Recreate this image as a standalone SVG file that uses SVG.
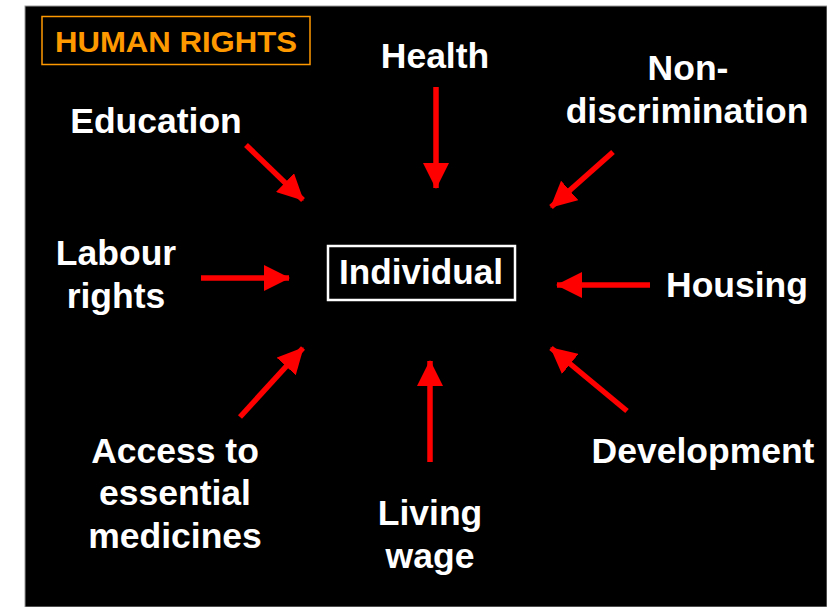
<svg xmlns="http://www.w3.org/2000/svg" width="827" height="607" viewBox="0 0 827 607">
  <defs>
    <marker id="head" markerUnits="userSpaceOnUse" markerWidth="26" markerHeight="26" viewBox="0 0 26 26" refX="25" refY="13" orient="auto">
      <path d="M0,0 L26,13 L0,26 Z" fill="#ff0000"/>
    </marker>
    <style>
      .lbl { font-family: "Liberation Sans", Arial, sans-serif; font-weight: bold; font-size: 35.5px; fill: #ffffff; text-anchor: middle; }
      .arrow { stroke: #ff0000; stroke-width: 5.5; fill: none; marker-end: url(#head); }
    </style>
  </defs>

  <!-- page background with black slide -->
  <rect x="0" y="0" width="827" height="607" fill="#ffffff"/>
  <rect x="25" y="6" width="802" height="601" fill="#000000" stroke="#9a9a9a" stroke-width="1"/>

  <!-- title tag -->
  <g id="title">
    <rect x="42" y="16.5" width="268" height="48" fill="none" stroke="#ff9900" stroke-width="1.5"/>
    <text x="176" y="52" font-family="Liberation Sans, Arial, sans-serif" font-weight="bold" font-size="30" fill="#ff9900" text-anchor="middle" textLength="242" lengthAdjust="spacingAndGlyphs">HUMAN RIGHTS</text>
  </g>

  <!-- centre node -->
  <g id="individual">
    <rect x="328" y="246" width="187" height="54" fill="none" stroke="#ffffff" stroke-width="2.5"/>
    <text class="lbl" x="421" y="284" textLength="164" lengthAdjust="spacingAndGlyphs">Individual</text>
  </g>

  <!-- surrounding rights -->
  <g id="health"><text class="lbl" x="435" y="68">Health</text></g>
  <g id="education"><text class="lbl" x="156" y="133">Education</text></g>
  <g id="non-discrimination">
    <text class="lbl" x="688" y="80">Non-</text>
    <text class="lbl" x="687" y="123">discrimination</text>
  </g>
  <g id="labour-rights">
    <text class="lbl" x="116" y="265">Labour</text>
    <text class="lbl" x="116" y="308">rights</text>
  </g>
  <g id="housing"><text class="lbl" x="737" y="297">Housing</text></g>
  <g id="access-medicines">
    <text class="lbl" x="175" y="463">Access to</text>
    <text class="lbl" x="175" y="505">essential</text>
    <text class="lbl" x="175" y="548">medicines</text>
  </g>
  <g id="living-wage">
    <text class="lbl" x="430" y="525">Living</text>
    <text class="lbl" x="430" y="568">wage</text>
  </g>
  <g id="development"><text class="lbl" x="703" y="463">Development</text></g>

  <!-- connectors pointing at the individual -->
  <g id="connectors">
    <line class="arrow" x1="246" y1="145" x2="303" y2="200"/>
    <line class="arrow" x1="436" y1="87" x2="436" y2="188"/>
    <line class="arrow" x1="613" y1="152" x2="551" y2="207"/>
    <line class="arrow" x1="201" y1="278" x2="289" y2="278"/>
    <line class="arrow" x1="650" y1="285" x2="557" y2="285"/>
    <line class="arrow" x1="240" y1="417" x2="303" y2="348"/>
    <line class="arrow" x1="430" y1="462" x2="430" y2="361"/>
    <line class="arrow" x1="627" y1="411" x2="551" y2="348"/>
  </g>
</svg>
